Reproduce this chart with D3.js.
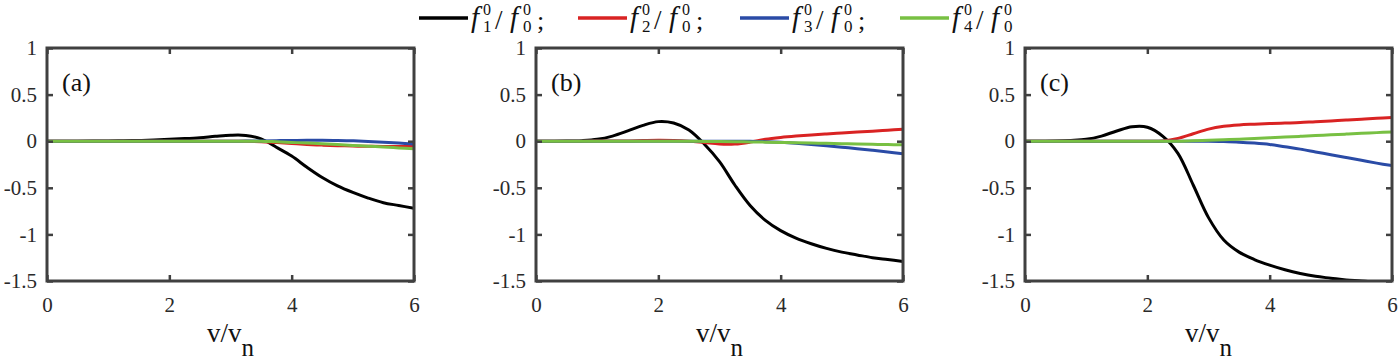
<!DOCTYPE html>
<html><head><meta charset="utf-8">
<script src="https://cdn.jsdelivr.net/npm/d3@7"></script>
<style>body{margin:0;background:#fff}svg{display:block}</style>
</head><body>
<svg id="chart" width="1400" height="360"></svg>
<script>
const xs = [0,0.25,0.5,0.75,1,1.25,1.5,1.75,2,2.25,2.5,2.75,3,3.25,3.5,3.75,4,4.25,4.5,4.75,5,5.25,5.5,5.75,6];
const panelLabels = ["(a)","(b)","(c)"];
const seriesSubs = ["1","2","3","4"];
const seriesColors = ["#000000","#d92323","#2a4ba6","#78c043"];
const xTicks = [0,2,4,6];
const yTicks = [1,0.5,0,-0.5,-1,-1.5];
const yTickLabels = ["1","0.5","0","-0.5","-1","-1.5"];

const a_f1 = [0,0,0,0.001,0.002,0.005,0.008,0.013,0.02,0.028,0.038,0.052,0.064,0.062,0.025,-0.065,-0.16,-0.28,-0.39,-0.48,-0.55,-0.61,-0.66,-0.69,-0.72];
const a_f2 = [0,0,0,0,0,0,0,0,0,0,0,0,0,-0.001,-0.005,-0.015,-0.025,-0.035,-0.042,-0.048,-0.052,-0.055,-0.056,-0.056,-0.055];
const a_f3 = [0,0,0,0,0,0,0,0,0,0,0,0,0,0.001,0.003,0.006,0.008,0.01,0.01,0.008,0.004,-0.002,-0.01,-0.02,-0.03];
const a_f4 = [0,0,0,0,0,0,0,0,0,0,0,0,0,0,0,-0.006,-0.013,-0.02,-0.028,-0.036,-0.045,-0.053,-0.062,-0.072,-0.082];

const b_f1 = [0,0,0.001,0.006,0.02,0.055,0.11,0.17,0.21,0.195,0.12,-0.03,-0.22,-0.47,-0.69,-0.85,-0.96,-1.04,-1.1,-1.15,-1.19,-1.22,-1.25,-1.27,-1.29];
const b_f2 = [0,0,0,0,0.001,0.002,0.003,0.007,0.01,0.008,0,-0.015,-0.03,-0.03,-0.01,0.02,0.04,0.055,0.067,0.078,0.088,0.098,0.108,0.118,0.128];
const b_f3 = [0,0,0,0,0,0,0,0,0,0,0,0,0,0,0,-0.005,-0.012,-0.022,-0.035,-0.05,-0.065,-0.08,-0.097,-0.115,-0.135];
const b_f4 = [0,0,0,0,0,0,0,0,0,0,0,-0.002,-0.004,-0.006,-0.008,-0.01,-0.013,-0.016,-0.02,-0.023,-0.027,-0.03,-0.033,-0.036,-0.038];

const c_f1 = [0,0,0.002,0.008,0.02,0.055,0.11,0.155,0.15,0.055,-0.13,-0.47,-0.82,-1.06,-1.19,-1.27,-1.33,-1.38,-1.42,-1.45,-1.47,-1.49,-1.5,-1.515,-1.53];
const c_f2 = [0,0,0,0,0,0,0,0,0,0.003,0.03,0.08,0.13,0.16,0.175,0.183,0.19,0.195,0.2,0.21,0.218,0.227,0.236,0.245,0.255];
const c_f3 = [0,0,0,0,0,0,0,0,0,0,0,0,0,-0.004,-0.01,-0.02,-0.035,-0.06,-0.085,-0.115,-0.145,-0.175,-0.205,-0.235,-0.262];
const c_f4 = [0,0,0,0,0,0,0,0,0,0,0,0.005,0.01,0.016,0.022,0.029,0.036,0.044,0.052,0.06,0.068,0.076,0.084,0.092,0.1];

const panelsData = [[a_f1,a_f2,a_f3,a_f4],[b_f1,b_f2,b_f3,b_f4],[c_f1,c_f2,c_f3,c_f4]];

const svg = d3.select("#chart");
const frameColor = "#404040";
const panelLeft = [47, 536, 1025];
const pw = 367, plotTop = 48, ph = 233;

panelsData.forEach((series, i) => {
  const x = d3.scaleLinear().domain([0,6]).range([panelLeft[i], panelLeft[i]+pw]);
  const y = d3.scaleLinear().domain([-1.5,1]).range([plotTop+ph, plotTop]);
  const g = svg.append("g");
  const clipId = "clip"+i;
  svg.append("defs").append("clipPath").attr("id", clipId)
    .append("rect").attr("x", x(0)).attr("y", y(1)).attr("width", pw).attr("height", ph);

  const line = d3.line().x((d,j)=>x(xs[j])).y(d=>y(d)).curve(d3.curveCatmullRom.alpha(0.5));
  const lg = g.append("g").attr("clip-path", `url(#${clipId})`);
  series.forEach((vals, k) => {
    lg.append("path").datum(vals).attr("d", line)
      .attr("fill","none").attr("stroke", seriesColors[k]).attr("stroke-width", 3);
  });

  const axB = d3.axisBottom(x).tickValues(xTicks).tickSize(-6).tickPadding(16).tickFormat(d=>String(d));
  const axT = d3.axisTop(x).tickValues(xTicks).tickSize(-6).tickFormat("");
  const axL = d3.axisLeft(y).tickValues(yTicks).tickSize(-6).tickPadding(10).tickFormat((d,j)=>yTickLabels[j]);
  const axR = d3.axisRight(y).tickValues(yTicks).tickSize(-6).tickFormat("");
  const gb = g.append("g").attr("transform",`translate(0,${plotTop+ph})`).call(axB);
  const gt = g.append("g").attr("transform",`translate(0,${plotTop})`).call(axT);
  const gl = g.append("g").attr("transform",`translate(${panelLeft[i]},0)`).call(axL);
  const gr = g.append("g").attr("transform",`translate(${panelLeft[i]+pw},0)`).call(axR);
  [gb,gt,gl,gr].forEach(a=>{
    a.select(".domain").remove();
    a.attr("font-family", null);
    a.selectAll(".tick line").attr("stroke", frameColor).attr("stroke-width", 2.5);
    a.selectAll("text").attr("font-size", 21).attr("fill", "#2a2a2a");
  });
  g.append("rect").attr("x", x(0)).attr("y", y(1)).attr("width", pw).attr("height", ph)
    .attr("fill","none").attr("stroke", frameColor).attr("stroke-width", 3);

  g.append("text").attr("x", x(0)+15).attr("y", 91).text(panelLabels[i])
    .attr("font-size", 26).attr("fill","#111");

  const xl = g.append("text").attr("x", x(3)).attr("y", 342).attr("text-anchor","middle")
    .attr("font-size", 27).attr("fill","#111");
  xl.append("tspan").text("v/v");
  xl.append("tspan").attr("dy", 14).attr("font-size", 25).text("n");
});

const legendX = [419, 578, 740, 900];
seriesSubs.forEach((sub, k) => {
  const lx = legendX[k];
  svg.append("line").attr("x1", lx).attr("x2", lx+49).attr("y1", 18).attr("y2", 18)
    .attr("stroke", seriesColors[k]).attr("stroke-width", 3.5);
  const g = svg.append("g").attr("fill", "#111");
  g.append("text").attr("x", lx+52).attr("y", 27).attr("font-size", 29).attr("font-style","italic").text("f");
  g.append("text").attr("x", lx+64).attr("y", 15).attr("font-size", 16).text("0");
  g.append("text").attr("x", lx+64).attr("y", 32).attr("font-size", 17).text(sub);
  g.append("text").attr("x", lx+76).attr("y", 29).attr("font-size", 27).text("/");
  g.append("text").attr("x", lx+91).attr("y", 27).attr("font-size", 29).attr("font-style","italic").text("f");
  g.append("text").attr("x", lx+104).attr("y", 15).attr("font-size", 16).text("0");
  g.append("text").attr("x", lx+104).attr("y", 32).attr("font-size", 17).text("0");
  if (k < 3) g.append("text").attr("x", lx+118).attr("y", 29).attr("font-size", 26).text(";");
});

svg.selectAll("text").attr("font-family", "Liberation Serif");
</script>
</body></html>
